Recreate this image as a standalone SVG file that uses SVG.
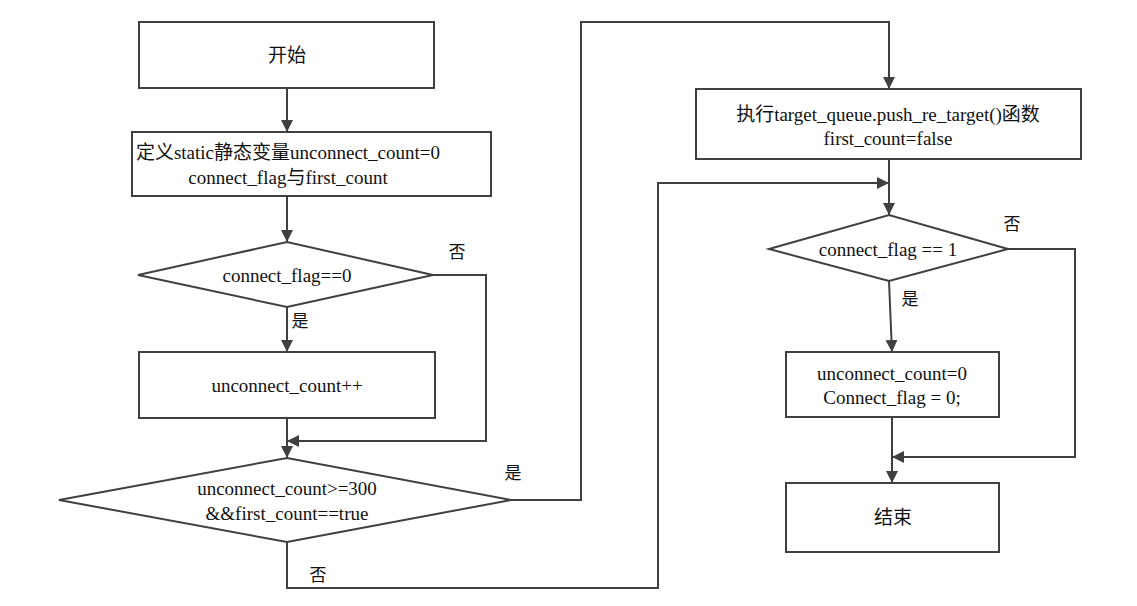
<svg xmlns="http://www.w3.org/2000/svg" width="1137" height="606" viewBox="0 0 1137 606">
<style>
.box{fill:#fff;stroke:#404040;stroke-width:2}
.ln{fill:none;stroke:#404040;stroke-width:2}
.t{font-family:"Liberation Serif","Noto Sans CJK SC",serif;font-size:19px;fill:#111;text-anchor:middle;dominant-baseline:central}
.lb{font-family:"Liberation Serif","Noto Sans CJK SC",serif;font-size:17px;fill:#111;text-anchor:middle;dominant-baseline:central}
</style>
<defs>
<marker id="ah" markerWidth="12" markerHeight="12" viewBox="0 0 12 12" refX="12" refY="6" orient="auto" markerUnits="userSpaceOnUse">
<path d="M0,0 L12,6 L0,12 Z" fill="#404040"/>
</marker>
</defs>
<rect width="1137" height="606" fill="#fff"/>
<g id="connectors">
<path class="ln" d="M287,88 V132" marker-end="url(#ah)"/>
<path class="ln" d="M287,196 V242" marker-end="url(#ah)"/>
<path class="ln" d="M287,307 V352" marker-end="url(#ah)"/>
<path class="ln" d="M433,275 H486 V441 H287" marker-end="url(#ah)"/>
<path class="ln" d="M287,418 V458" marker-end="url(#ah)"/>
<path class="ln" d="M511,500 H581 V22 H889 V89" marker-end="url(#ah)"/>
<path class="ln" d="M287,542 V588 H658 V183 H889" marker-end="url(#ah)"/>
<path class="ln" d="M889,159 V215" marker-end="url(#ah)"/>
<path class="ln" d="M889,281 L892,352" marker-end="url(#ah)"/>
<path class="ln" d="M1008,249 H1075 V457 H892" marker-end="url(#ah)"/>
<path class="ln" d="M892,417 V483" marker-end="url(#ah)"/>
<text class="lb" x="457" y="252">否</text>
<text class="lb" x="300" y="321">是</text>
<text class="lb" x="513" y="473">是</text>
<text class="lb" x="318" y="575">否</text>
<text class="lb" x="1012" y="224">否</text>
<text class="lb" x="910" y="299">是</text>
</g>
<g id="start">
<rect class="box" x="139" y="22" width="295" height="66"/>
<text class="t" x="287" y="55">开始</text>
</g>
<g id="define">
<rect class="box" x="132" y="132" width="359" height="64"/>
<text class="t" x="288" y="152">定义static静态变量unconnect_count=0</text>
<text class="t" x="288" y="177">connect_flag与first_count</text>
</g>
<g id="cond1">
<polygon class="box" points="138,275 287,242 433,275 287,307"/>
<text class="t" x="287" y="275">connect_flag==0</text>
</g>
<g id="inc">
<rect class="box" x="139" y="352" width="296" height="66"/>
<text class="t" x="287" y="385">unconnect_count++</text>
</g>
<g id="cond2">
<polygon class="box" points="59,500 287,458 511,500 287,542"/>
<text class="t" x="287" y="488">unconnect_count&gt;=300</text>
<text class="t" x="287" y="513">&amp;&amp;first_count==true</text>
</g>
<g id="push">
<rect class="box" x="696" y="89" width="385" height="70"/>
<text class="t" x="888" y="114">执行target_queue.push_re_target()函数</text>
<text class="t" x="888" y="138">first_count=false</text>
</g>
<g id="cond3">
<polygon class="box" points="769,249 889,215 1008,249 889,281"/>
<text class="t" x="888" y="249">connect_flag == 1</text>
</g>
<g id="reset">
<rect class="box" x="786" y="352" width="213" height="65"/>
<text class="t" x="892" y="373">unconnect_count=0</text>
<text class="t" x="892" y="397">Connect_flag = 0;</text>
</g>
<g id="end">
<rect class="box" x="786" y="483" width="213" height="69"/>
<text class="t" x="893" y="517">结束</text>
</g>
</svg>
